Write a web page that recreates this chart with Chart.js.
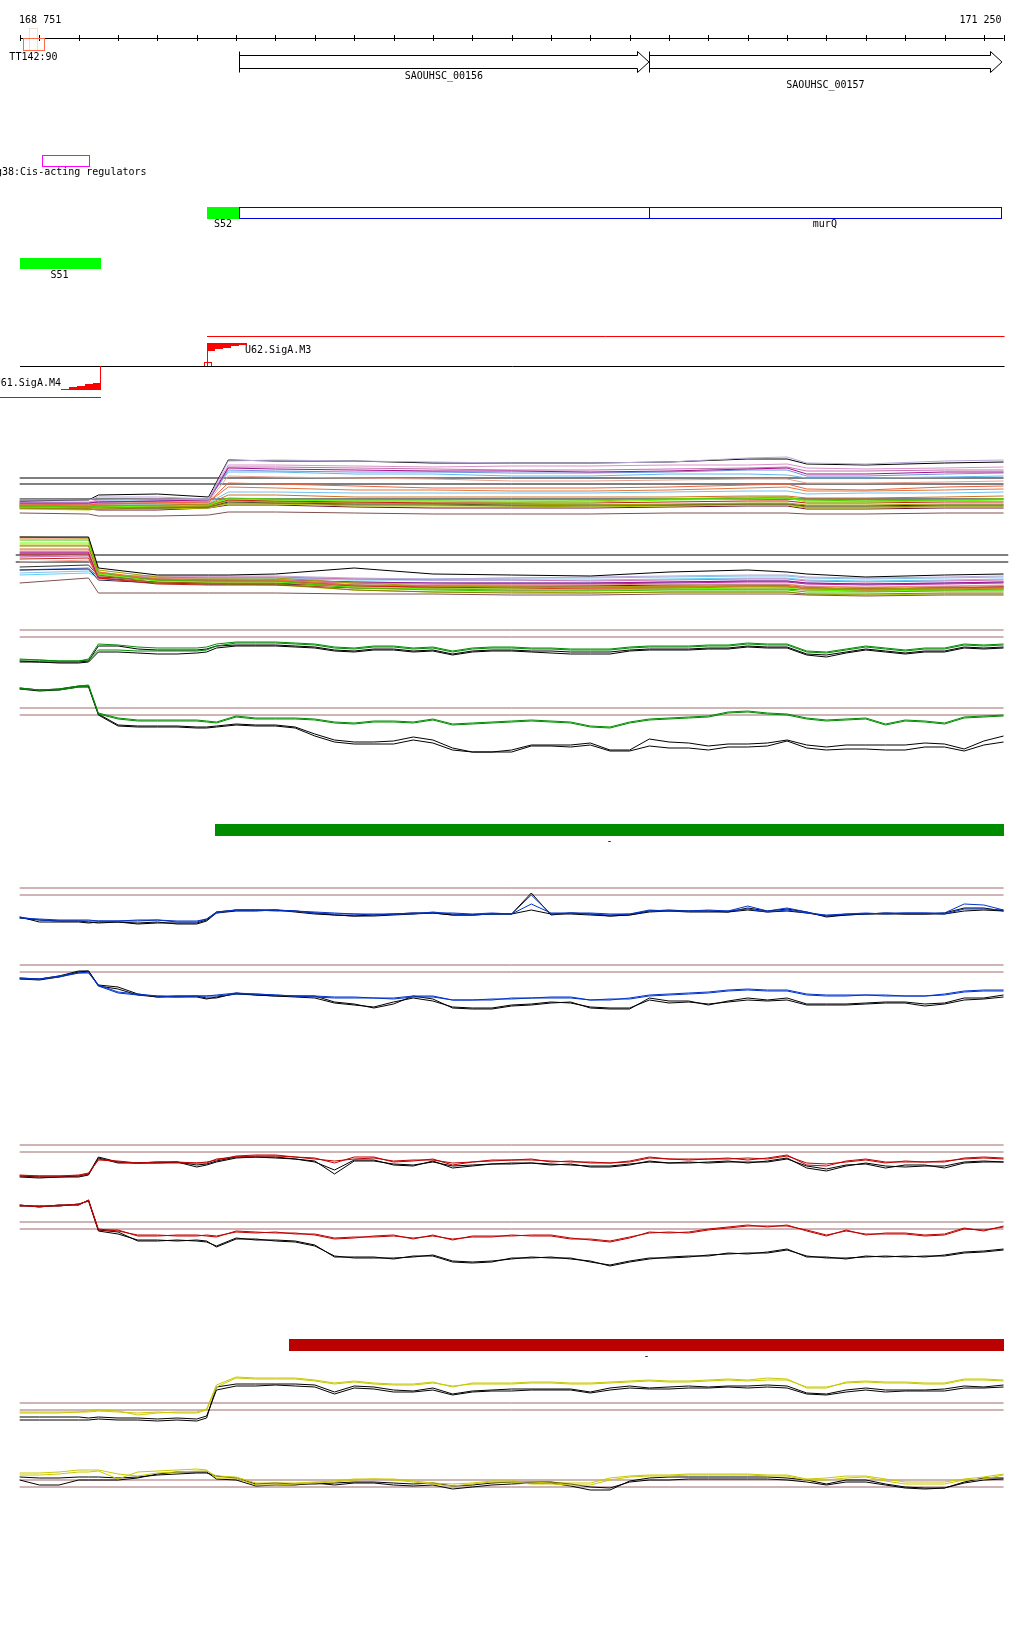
<!DOCTYPE html>
<html><head><meta charset="utf-8">
<script src="https://cdn.jsdelivr.net/npm/chart.js@4.4.1/dist/chart.umd.min.js"></script>
<style>html,body{margin:0;padding:0;background:#fff;overflow:hidden}canvas{display:block}</style>
</head><body>
<canvas id="c" width="1024" height="1640" style="width:1024px;height:1640px"></canvas>
<script>
// ================= DATA =================
// genome positions (bp) sampled for the signal tracks
const positions = [168750,168800,168850,168900,168925,168950,169000,169050,169100,169150,169200,169225,169250,169300,169350,169400,169450,169500,169550,169600,169650,169700,169750,169800,169850,169900,169950,170000,170050,170100,170150,170200,170250,170300,170350,170400,170450,170500,170550,170600,170650,170700,170750,170800,170850,170900,170950,171000,171050,171100,171150,171200,171250];

// green condition (top = + strand, bottom = - strand), two replicates + two reference (black) replicates
const greenTopA = [21,20,19,19,21,36,35,33,32,32,32,33,36,38,38,38,37,36,33,32,34,34,32,33,29,32,33,33,32,32,31,31,31,33,34,34,34,35,35,37,36,36,29,28,31,34,32,30,32,32,36,35,36];
const greenTopB = [20,20,19,19,20,30,30,29,29,29,29,30,34,37,37,37,36,35,32,31,33,33,31,32,28,31,32,32,31,31,30,30,30,32,33,33,33,34,34,36,35,35,28,27,30,33,31,29,31,31,35,34,35];
const greenTopRefA = [19,18,18,18,19,34,34,31,30,30,30,31,34,35,35,35,34,33,30,29,31,31,29,30,26,29,30,30,29,29,28,28,28,30,31,31,31,32,32,34,33,33,26,25,28,31,29,27,29,29,33,32,33];
const greenTopRefB = [18,18,17,17,18,28,28,27,26,26,27,28,32,34,34,34,33,32,29,28,30,30,28,29,25,28,29,29,28,27,26,26,26,29,30,30,30,31,31,33,32,32,25,23,27,30,28,26,28,28,32,31,32];
const greenBotA = [72,70,71,74,75,47,42,40,40,40,40,39,38,44,42,42,42,41,38,37,39,39,38,41,36,37,38,39,40,39,38,34,33,38,41,42,43,44,48,49,47,46,42,40,41,42,36,40,39,37,43,44,45];
const greenBotB = [71,70,70,73,74,46,41,39,39,39,39,38,37,43,41,41,41,40,37,36,38,38,37,40,35,36,37,38,39,38,37,33,32,37,40,41,42,43,47,48,46,45,41,39,40,41,35,39,38,36,42,43,44];
const greenBotRefA = [72,70,71,74,74,46,35,34,34,34,33,33,34,36,35,35,33,26,20,18,18,19,23,20,12,8,8,10,15,15,15,17,10,10,21,18,17,14,16,16,17,20,15,13,15,15,15,15,17,16,11,19,24];
const greenBotRefB = [71,69,70,73,73,45,34,33,33,33,32,32,33,35,34,34,32,24,18,16,16,16,20,17,10,8,8,8,14,14,13,15,9,9,14,12,12,10,13,13,14,19,12,10,11,11,10,10,13,13,9,15,18];

// blue condition
const blueTopA = [23,20,19,19,19,19,19,19,20,18,18,21,28,30,30,30,29,27,26,26,25,26,26,28,26,25,26,26,45,26,27,26,25,26,30,29,29,29,29,34,29,32,28,24,26,26,27,27,27,27,36,35,30];
const blueTopB = [22,21,20,20,20,19,19,20,20,19,19,21,27,30,30,29,29,28,27,26,26,26,27,27,27,26,27,26,36,27,27,27,26,26,29,29,29,30,29,31,28,30,27,25,26,27,26,27,27,26,31,31,30];
const blueTopRefA = [23,18,18,18,17,18,18,16,17,17,17,20,28,30,30,30,29,27,25,24,25,26,27,27,25,25,26,26,47,25,27,26,24,25,29,30,29,29,28,32,29,31,28,23,25,26,27,26,26,27,32,32,29];
const blueTopRefB = [22,20,19,19,18,17,18,17,18,16,16,19,27,29,29,30,28,26,25,24,24,25,26,27,25,25,26,26,30,26,26,25,24,25,28,29,28,28,28,30,28,29,27,24,25,26,26,26,26,26,29,30,29];
const blueBotA = [32,31,34,37,37,25,18,16,14,14,14,14,15,17,16,15,14,14,13,13,12,12,14,14,10,10,10,12,12,13,13,10,10,12,15,16,17,18,20,21,20,20,16,15,15,15,15,14,14,16,19,20,20];
const blueBotB = [31,31,33,37,38,24,17,15,14,13,14,14,14,16,16,15,14,13,12,12,12,11,13,13,10,10,11,11,12,12,12,10,11,11,14,15,16,17,19,20,19,19,15,14,14,15,14,14,14,15,18,19,19];
const blueBotRefA = [32,31,34,39,39,25,23,16,13,14,14,12,12,17,15,14,14,14,8,6,2,6,14,11,2,1,1,4,5,7,8,2,1,1,12,9,9,5,9,12,10,12,6,6,6,7,8,8,6,7,12,12,15];
const blueBotRefB = [31,30,33,38,39,24,21,15,13,13,13,11,13,16,15,14,13,12,7,5,3,8,12,9,3,2,2,5,6,8,7,3,2,2,10,7,8,6,8,10,9,10,5,5,5,6,7,7,4,6,10,11,13];

// red condition
const redTopA = [15,14,14,15,17,30,29,27,28,28,27,28,30,34,35,35,33,32,27,33,33,28,29,31,25,28,30,30,31,28,29,27,27,29,33,31,31,31,32,30,32,35,25,24,29,31,28,28,28,28,32,33,32];
const redTopB = [14,14,14,14,16,31,28,27,27,27,27,27,31,33,34,34,33,31,29,31,32,29,30,30,27,28,29,30,30,29,28,28,27,28,32,31,30,31,31,32,31,34,27,26,28,30,27,29,28,29,31,32,31];
const redTopRefA = [13,12,13,13,15,32,27,27,28,28,25,26,29,33,33,32,31,28,20,30,30,25,24,29,22,24,26,26,27,25,26,23,23,25,29,27,27,28,29,27,29,32,22,19,24,27,24,23,24,24,28,29,28];
const redTopRefB = [14,13,13,14,16,33,28,27,27,28,23,25,28,32,33,33,31,29,16,29,29,26,25,28,24,25,26,27,27,26,25,24,24,26,28,27,28,27,28,28,28,31,24,21,25,26,22,25,25,22,27,28,28];
const redBotA = [65,63,65,65,70,40,40,34,34,35,35,34,33,39,38,37,37,35,31,32,34,35,31,35,30,34,34,34,35,35,32,30,28,32,38,37,38,41,43,45,43,45,39,34,40,35,37,37,35,36,42,39,44];
const redBotB = [64,64,64,66,69,41,39,35,35,34,34,35,34,38,37,38,36,36,32,33,33,34,32,34,31,33,33,35,34,34,31,31,29,33,37,38,37,40,42,44,44,44,40,35,39,36,36,36,34,35,41,40,43];
const redBotRefA = [65,63,65,65,70,40,38,29,29,30,29,28,24,32,30,30,29,25,13,13,13,11,14,14,8,7,8,12,12,13,11,9,4,8,11,13,14,14,17,16,18,21,13,13,11,14,13,14,13,15,18,19,21];
const redBotRefB = [64,64,64,66,69,39,36,30,30,29,30,29,23,31,31,29,28,24,14,12,12,12,13,15,9,8,9,11,13,12,12,8,5,9,12,12,13,15,16,17,17,20,14,12,12,13,14,13,14,14,17,18,20];

// yellow condition
const yellowTopA = [18,18,18,18,19,20,19,15,17,18,18,21,45,53,52,52,52,50,47,49,47,46,46,48,43,47,47,47,48,48,47,47,48,49,50,49,49,50,51,50,52,51,42,42,48,49,48,48,47,47,51,51,50];
const yellowTopB = [17,17,17,18,18,19,18,17,18,17,17,20,43,52,51,51,51,49,46,48,46,45,45,47,44,46,46,46,47,47,46,46,47,48,49,48,48,49,50,49,50,50,43,43,47,48,47,47,46,46,50,50,49];
const yellowTopRefA = [10,10,10,10,10,11,10,10,9,10,9,12,43,46,46,46,46,45,38,44,43,40,39,42,36,39,40,41,41,41,41,38,42,44,42,43,44,43,44,44,45,44,37,36,40,42,40,40,40,41,44,43,45];
const yellowTopRefB = [13,13,13,13,12,13,12,12,11,12,11,14,40,44,44,45,44,43,36,42,41,38,38,40,35,38,39,39,40,40,40,37,40,42,41,41,42,42,43,42,43,42,36,35,38,40,38,39,39,39,42,42,43];
const yellowBotA = [25,25,26,28,28,29,21,28,29,30,31,30,22,22,15,15,16,17,18,20,21,20,18,16,14,16,18,18,16,16,15,15,20,23,24,24,25,25,25,25,24,24,20,20,22,23,19,16,16,16,20,21,25];
const yellowBotB = [27,27,28,30,30,30,26,24,27,28,29,29,24,23,17,17,17,18,19,21,21,21,19,17,16,17,19,19,18,17,17,17,22,24,25,25,26,26,26,26,25,25,21,22,24,24,21,18,18,18,21,23,26];
const yellowBotRefA = [20,15,15,20,20,20,20,22,26,28,28,28,21,20,14,15,15,17,15,17,17,15,14,15,11,13,15,16,17,17,14,10,10,19,22,23,23,23,23,23,23,22,20,16,20,20,16,13,12,12,18,22,22];
const yellowBotRefB = [23,22,22,23,23,23,22,23,25,26,27,27,24,22,16,17,16,16,17,18,18,17,16,17,14,15,17,18,18,18,16,13,12,18,20,20,21,21,21,21,21,20,18,15,18,18,15,12,11,12,17,20,21];

// threshold levels for each panel
const greenTopThresholds = [50,43];
const greenBotThresholds = [52,45];
const blueTopThresholds = [52,45];
const blueBotThresholds = [45,38];
const redTopThresholds = [45,38];
const redBotThresholds = [48,41];
const yellowTopThresholds = [27,20];
const yellowBotThresholds = [20,13];
const multiTopThresholds = [42,36,21];
const multiBotThresholds = [45,38];

// multi-condition overview (many conditions)
const multiPositions = [168750,168925,168950,169100,169230,169280,169400,169600,169800,170000,170200,170400,170600,170700,170750,170900,171100,171250];
const multiTop = [
 [20,20,23,23,21,59,60,59,58,57,57,58,62,63,57,56,59,60],
 [19,20,25,26,23,60,59,59,57,57,57,58,61,61,56,55,57,58],
 [18,18,20,21,20,55,55,54,53,54,54,55,55,56,52,51,52,53],
 [17,17,18,19,20,52,51,50,49,49,48,49,51,52,46,46,48,48],
 [18,17,18,19,20,50,49,48,48,47,47,48,50,50,44,44,46,47],
 [17,17,19,19,21,48,48,46,46,44,44,46,46,45,42,42,43,44],
 [16,15,16,17,18,37,36,34,32,32,32,33,35,36,31,30,33,34],
 [15,15,16,17,18,33,32,30,30,29,29,30,32,33,29,29,30,31],
 [16,15,16,16,17,28,28,27,27,27,27,28,29,29,26,27,27,28],
 [15,14,15,15,16,25,25,23,23,23,23,23,24,24,22,22,23,24],
 [14,13,14,15,16,22,21,20,20,20,20,21,22,23,20,19,20,21],
 [13,13,13,14,15,21,20,19,19,18,18,20,21,22,18,18,19,20],
 [14,13,14,14,15,20,19,18,17,17,17,18,19,19,17,17,18,18],
 [12,12,12,13,14,19,18,17,16,16,15,16,17,17,15,15,16,16],
 [12,11,11,12,13,17,17,15,15,14,14,15,16,16,13,13,14,14],
 [14,13,13,12,13,18,17,16,16,15,15,15,16,16,14,14,15,15],
 [11,10,11,11,12,16,16,14,14,14,13,14,15,15,12,12,13,13],
 [12,11,10,10,12,15,15,13,12,12,12,13,14,14,11,11,12,12],
 [7,6,4,4,5,8,8,7,6,6,6,7,7,7,6,6,7,7],
 [17,16,17,18,19,44,43,42,41,39,39,40,41,41,37,37,38,39],
 [16,16,17,18,19,53,53,52,51,50,50,51,52,53,49,49,50,50],
 [13,12,13,13,14,20,19,18,18,18,19,21,23,23,19,19,20,21]
];
const multiBot = [
 [63,63,32,25,25,25,26,32,26,25,24,28,30,28,26,23,25,26],
 [63,62,30,23,22,22,22,17,14,13,13,14,14,13,12,11,12,12],
 [62,62,28,21,20,20,20,15,14,13,12,13,14,14,12,10,11,12],
 [60,60,27,20,19,19,19,12,10,9,9,10,10,10,8,8,9,9],
 [57,57,26,19,18,18,18,13,11,11,10,11,12,12,10,9,10,10],
 [54,54,25,17,17,16,16,10,8,7,7,8,8,8,6,6,7,7],
 [50,50,24,22,21,21,20,17,16,15,15,16,16,16,14,13,14,15],
 [48,48,23,21,20,20,20,18,17,17,17,18,19,19,17,16,17,18],
 [46,46,22,18,17,17,17,14,13,12,12,13,14,14,12,11,12,13],
 [43,44,24,23,23,23,23,21,20,20,19,20,21,21,19,18,19,20],
 [43,45,25,24,24,24,24,22,21,22,23,24,25,25,23,22,23,24],
 [41,42,22,16,15,15,15,12,11,10,10,11,11,11,10,9,10,11],
 [38,40,21,18,17,17,17,14,13,13,13,14,15,15,13,12,13,14],
 [30,31,20,17,16,16,16,14,13,13,14,14,15,15,13,12,13,13],
 [30,32,23,21,20,20,20,18,17,17,17,18,19,19,17,16,17,18],
 [27,29,24,22,22,22,22,21,21,22,22,23,24,24,22,21,22,23],
 [25,27,23,21,21,21,21,20,20,20,20,21,22,22,20,19,20,21],
 [17,22,7,7,7,7,7,6,6,5,5,6,6,6,5,4,5,5],
 [51,51,28,20,19,19,19,14,12,12,11,12,13,13,11,10,11,11],
 [55,55,26,17,16,16,15,10,8,8,7,8,8,8,6,5,6,6],
 [47,47,23,20,20,19,19,17,16,16,16,17,18,18,16,15,16,17],
 [33,35,24,20,19,19,19,15,14,14,14,15,15,15,13,12,13,14]
];

// annotation features (bp)
const rulerTicks = [168751,168800,168900,169000,169100,169200,169300,169400,169500,169600,169700,169800,169900,170000,170100,170200,170300,170400,170500,170600,170700,170800,170900,171000,171100,171200,171250];
const rulerLabels = ['168 751','171 250'];
const geneNames = ['SAOUHSC_00156','SAOUHSC_00157'];
const geneStarts = [169307,170349];
const geneEnds = [170349,171246];
const terminatorName = 'TT142:90';
const terminatorSpan = [168758,168812];
const terminatorCore = [168774,168794];
const regulatorName = 'g38:Cis-acting regulators';
const regulatorSpan = [168807,168926];
const segmentNames = ['S52','S51'];
const segmentStarts = [169226,168751];
const segmentEnds = [169307,168957];
const transcriptName = 'murQ';
const transcriptParts = [169307,170349,171243];
const promoterNames = ['U62.SigA.M3','U61.SigA.M4'];
const promoterPositions = [169226,168954];
const regionStarts = [169246,169434];
const regionEnds = [171251,171251];
const regionLabels = ['-','-'];

// ================= LAYOUT / STYLE =================
const anchors = {yMultiTop:520, yMultiBot:600, yGreenTop:680, yGreenBot:760, yBlueTop:940, yBlueBot:1010, yRedTop:1190, yRedBot:1270, yYellowTop:1430, yYellowBot:1500};
const H = 1640;
const COL = {green:'#008c00', blue:'#0033cc', red:'#c00000', yellow:'#c8c800', black:'#000000', thr:'#9e6b6b'};
const multiTopColors = ['#b8a8d8','#000000','#d890c8','#a0108a','#7090e0','#60b8f0','#f06040','#e07838','#70c0f0','#d07020','#50d000','#60ff00','#d01818','#a0a000','#808000','#202050','#b0c800','#701030','#805050','#e8a090','#c070b0','#90d000'];
const multiBotColors = ['#000000','#a0a000','#f07030','#40c000','#60ff00','#808000','#e89080','#a0108a','#d01818','#d070b0','#b8a8d8','#c02020','#f0a090','#202050','#5080e0','#80c0f0','#60d0f0','#805050','#d07020','#b0c800','#c020a0','#303030'];

const scales = {
  x: {type:'linear', axis:'x', display:false, min:168700, max:171302},
  yRows: {type:'linear', axis:'y', display:false, min:0, max:H, reverse:true}
};
Object.keys(anchors).forEach(k => { scales[k] = {type:'linear', axis:'y', display:false, min:anchors[k]-H, max:anchors[k]}; });

const datasets = [];
function series(pos, vals, axis, color, order) {
  datasets.push({data: pos.map((p,i)=>({x:p, y:vals[i]})), xAxisID:'x', yAxisID: axis, borderColor: color, borderWidth: 1, pointRadius: 0, tension: 0, fill: false, order: order});
}
function thresholds(levels, axis, color, from, to) {
  levels.forEach(v => datasets.push({data:[{x:from,y:v},{x:to,y:v}], xAxisID:'x', yAxisID: axis, borderColor: color, borderWidth: 1, pointRadius: 0, fill:false, order: 3}));
}
// multi panels
multiTop.forEach((v,i) => series(multiPositions, v, 'yMultiTop', multiTopColors[i], 1));
multiBot.forEach((v,i) => series(multiPositions, v, 'yMultiBot', multiBotColors[i], 1));
thresholds(multiTopThresholds, 'yMultiTop', '#000', 168750, 171250);
thresholds(multiBotThresholds, 'yMultiBot', '#000', 168740, 171262);
// condition panels
const cond = [
  ['yGreenTop', greenTopA, greenTopB, greenTopRefA, greenTopRefB, greenTopThresholds, COL.green],
  ['yGreenBot', greenBotA, greenBotB, greenBotRefA, greenBotRefB, greenBotThresholds, COL.green],
  ['yBlueTop', blueTopA, blueTopB, blueTopRefA, blueTopRefB, blueTopThresholds, COL.blue],
  ['yBlueBot', blueBotA, blueBotB, blueBotRefA, blueBotRefB, blueBotThresholds, COL.blue],
  ['yRedTop', redTopA, redTopB, redTopRefA, redTopRefB, redTopThresholds, COL.red],
  ['yRedBot', redBotA, redBotB, redBotRefA, redBotRefB, redBotThresholds, COL.red],
  ['yYellowTop', yellowTopA, yellowTopB, yellowTopRefA, yellowTopRefB, yellowTopThresholds, COL.yellow],
  ['yYellowBot', yellowBotA, yellowBotB, yellowBotRefA, yellowBotRefB, yellowBotThresholds, COL.yellow]
];
cond.forEach(([ax,a,b,ra,rb,thr,col]) => {
  series(positions, a, ax, col, 1);
  series(positions, b, ax, col, 1);
  series(positions, ra, ax, COL.black, 2);
  series(positions, rb, ax, COL.black, 2);
  thresholds(thr, ax, COL.thr, 168750, 171250);
});

const annotate = {
  id: 'annotate',
  afterDatasetsDraw(chart) {
    const ctx = chart.ctx;
    const X = v => chart.scales.x.getPixelForValue(v);
    const Y = v => chart.scales.yRows.getPixelForValue(v);
    const c = v => Math.round(v) + 0.5;
    ctx.save();
    ctx.lineWidth = 1;
    ctx.font = '10px "DejaVu Sans Mono", "Liberation Mono", monospace';
    ctx.textBaseline = 'middle';
    const line = (x1,y1,x2,y2,col) => { ctx.strokeStyle = col; ctx.beginPath(); ctx.moveTo(x1,y1); ctx.lineTo(x2,y2); ctx.stroke(); };
    const box = (x1,y1,x2,y2,col) => { ctx.strokeStyle = col; ctx.strokeRect(c(x1), c(y1), Math.round(x2-x1), Math.round(y2-y1)); };
    const fillBox = (x1,y1,x2,y2,col) => { ctx.fillStyle = col; ctx.fillRect(Math.round(x1), Math.round(y1), Math.round(x2-x1), Math.round(y2-y1)); };
    const text = (s,x,y,align) => { ctx.fillStyle = '#000'; ctx.textAlign = align || 'center'; ctx.fillText(s, x, y); };

    // ruler
    const rFirst = rulerTicks[0], rLast = rulerTicks[rulerTicks.length-1];
    line(X(rFirst), c(Y(38)), X(rLast), c(Y(38)), '#000');
    rulerTicks.forEach(t => line(c(X(t)), Y(35), c(X(t)), Y(41), '#000'));
    text(rulerLabels[0], X(rFirst) - 1, Y(20), 'left');
    text(rulerLabels[1], X(rLast) - 2, Y(20), 'right');

    // terminator
    box(X(terminatorCore[0]), Y(28), X(terminatorCore[1]), Y(50), '#f2dcd0');
    box(X(terminatorSpan[0]), Y(38), X(terminatorSpan[1]), Y(50), '#ff6a4a');
    text(terminatorName, (X(terminatorSpan[0]) + X(terminatorSpan[1]))/2, Y(57));

    // genes
    geneNames.forEach((name,i) => {
      const x1 = c(X(geneStarts[i])), x2 = X(geneEnds[i]), xh = c(x2 - 12);
      const yT = c(Y(55)), yB = c(Y(68)), fT = c(Y(51)), fB = c(Y(72)), yM = (yT + yB)/2;
      ctx.strokeStyle = '#000'; ctx.beginPath();
      ctx.moveTo(x1, fT); ctx.lineTo(x1, fB);
      ctx.moveTo(x1, yT); ctx.lineTo(xh, yT); ctx.lineTo(xh, fT); ctx.lineTo(x2, yM); ctx.lineTo(xh, fB); ctx.lineTo(xh, yB); ctx.lineTo(x1, yB);
      ctx.stroke();
      text(name, (X(geneStarts[i]) + x2)/2, Y(i === 0 ? 76 : 85));
    });

    // cis regulator
    box(X(regulatorSpan[0]), Y(155), X(regulatorSpan[1]), Y(166), '#ff00ff');
    text(regulatorName, -4, Y(172), 'left');

    // segments & transcript
    fillBox(X(segmentStarts[0]), Y(207), X(segmentEnds[0]), Y(219), '#00ff00');
    text(segmentNames[0], (X(segmentStarts[0]) + X(segmentEnds[0]))/2, Y(224));
    box(X(transcriptParts[0]), Y(207), X(transcriptParts[2]), Y(218), '#0000dd');
    line(c(X(transcriptParts[1])), Y(207), c(X(transcriptParts[1])), Y(218), '#0000dd');
    text(transcriptName, (X(transcriptParts[1]) + X(transcriptParts[2]))/2, Y(224));
    fillBox(X(segmentStarts[1]), Y(258), X(segmentEnds[1]), Y(269), '#00ff00');
    text(segmentNames[1], (X(segmentStarts[1]) + X(segmentEnds[1]))/2 - 1, Y(275));

    // promoter + strand (U62)
    const p1 = X(promoterPositions[0]);
    line(p1, c(Y(336)), X(rLast) + 1, c(Y(336)), '#ff0000');
    ctx.fillStyle = '#ff0000'; ctx.beginPath();
    ctx.moveTo(Math.round(p1), Y(343));
    ctx.lineTo(Math.round(p1) + 40, Y(343));
    for (let s = 4; s >= 0; s--) { const xs = Math.round(p1) + s*8; const hh = Math.round(8*(5-s)/5); ctx.lineTo(xs + 8, Y(343) + hh); ctx.lineTo(xs, Y(343) + hh); }
    ctx.closePath(); ctx.fill();
    line(c(p1), Y(343), c(p1), Y(366), '#ff0000');
    box(p1 - 3, Y(362), p1 + 4, Y(366), '#ff0000');
    text(promoterNames[0], p1 + 38, Y(350), 'left');
    line(X(rFirst), c(Y(366)), X(rLast) + 1, c(Y(366)), '#000');

    // promoter - strand (U61)
    const p2 = X(promoterPositions[1]);
    line(c(p2), Y(366), c(p2), Y(390), '#ff0000');
    ctx.fillStyle = '#ff0000'; ctx.beginPath();
    ctx.moveTo(Math.round(p2) + 1, Y(390));
    ctx.lineTo(Math.round(p2) - 39, Y(390));
    for (let s = 0; s < 5; s++) { const xs = Math.round(p2) - 39 + s*8; const hh = Math.round(7*(s+1)/5); ctx.lineTo(xs, Y(390) - hh); ctx.lineTo(xs + 8, Y(390) - hh); }
    ctx.closePath(); ctx.fill();
    text(promoterNames[1], p2 - 39, Y(383), 'right');
    line(0, c(Y(397)), c(p2) + 0.5, c(Y(397)), '#ff0000');

    // condition regions
    fillBox(X(regionStarts[0]), Y(824), X(regionEnds[0]), Y(836), '#008c00');
    text(regionLabels[0], (X(regionStarts[0]) + X(regionEnds[0]))/2, Y(841));
    fillBox(X(regionStarts[1]), Y(1339), X(regionEnds[1]), Y(1351), '#bb0000');
    text(regionLabels[1], (X(regionStarts[1]) + X(regionEnds[1]))/2, Y(1356));
    ctx.restore();
  }
};

new Chart(document.getElementById('c'), {
  type: 'line',
  data: {datasets},
  options: {
    responsive: false, maintainAspectRatio: false, devicePixelRatio: 1, animation: false, events: [],
    layout: {padding: 0},
    plugins: {legend: {display:false}, tooltip: {enabled:false}, title: {display:false}},
    scales
  },
  plugins: [annotate]
});
</script>
</body></html>
